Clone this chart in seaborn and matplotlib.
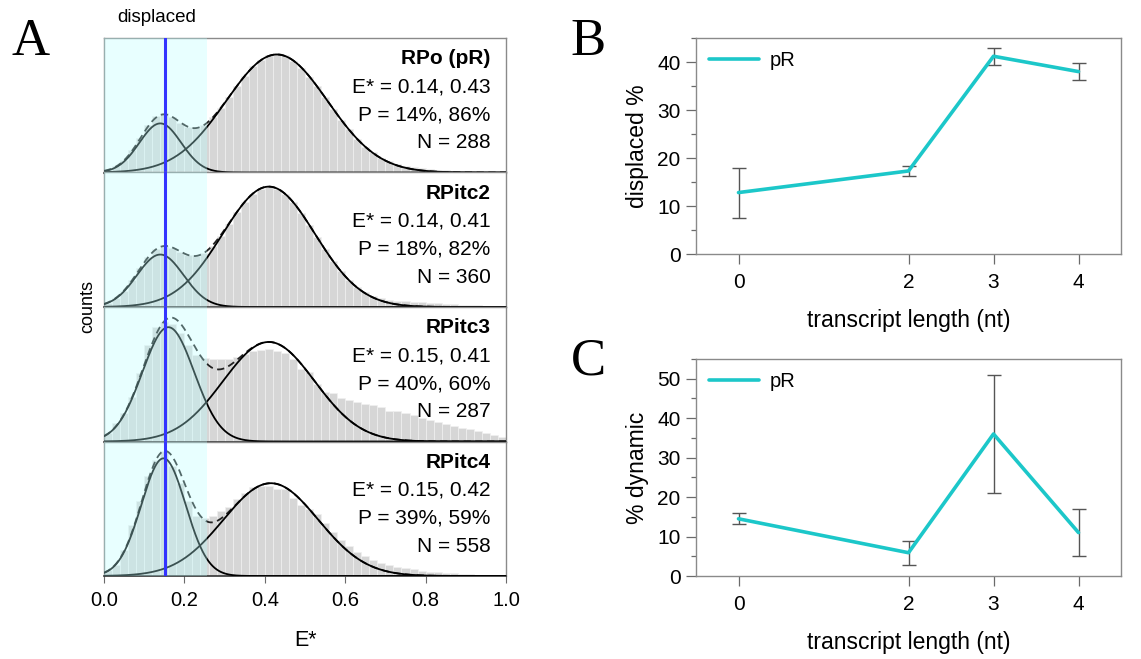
import numpy as np
import pandas as pd
import matplotlib
matplotlib.use("Agg")
import matplotlib.pyplot as plt
from matplotlib.ticker import MultipleLocator
import seaborn as sns

# ---------------- data ----------------
panel_names = ["RPo (pR)", "RPitc2", "RPitc3", "RPitc4"]
estar_text = ["E* = 0.14, 0.43", "E* = 0.14, 0.41", "E* = 0.15, 0.41", "E* = 0.15, 0.42"]
p_text = ["P = 14%, 86%", "P = 18%, 82%", "P = 40%, 60%", "P = 39%, 59%"]
n_text = ["N = 288", "N = 360", "N = 287", "N = 558"]

bin_width = 0.02

hist_rpo = [2, 5, 9, 17, 26, 35, 42, 44, 41, 37, 34, 33, 35, 41, 48, 56, 64, 72, 79, 84,
            87, 89, 87, 83, 78, 71, 64, 56, 47, 39, 32, 25, 19, 15, 11, 8.5, 6.5, 5, 4, 3.2,
            2.6, 2.2, 1.8, 1.4, 1.1, 0.8, 0.6, 0.4, 0.3, 0.2]
hist_itc2 = [3, 7, 12, 20, 29, 37, 43, 45, 44, 41, 39, 38, 40, 45, 53, 62, 71, 78, 84, 88,
             89, 88, 84, 78, 70, 61, 52, 43, 34, 27, 20, 15, 11, 8.5, 6.5, 5.5, 4.8, 4.2, 3.8, 3.4,
             3.0, 2.7, 2.4, 2.1, 1.8, 1.5, 1.2, 0.9, 0.6, 0.4]
hist_itc3 = [6, 14, 21, 33, 51, 72, 85, 89, 87, 81, 72, 64, 62, 61, 61, 61.5, 63, 65, 67, 68,
             69, 67, 66, 61, 54, 52, 43, 37, 36, 32, 31, 29.5, 28, 27, 26, 23, 22.5, 21.5, 19.5, 17.5,
             16, 14.5, 13, 11.5, 10, 9, 7.5, 6, 4.5, 3]
hist_itc4 = [4.5, 8, 19.5, 38, 56, 74.5, 86, 93, 82, 69.5, 56, 44.5, 43, 44.5, 48, 51, 57, 62, 66, 67,
             67, 65, 64.5, 58, 53, 50, 46, 39.5, 33, 27, 22, 18, 14.5, 12, 9.5, 8, 7, 6, 5, 4,
             3.2, 2.8, 2.4, 2, 1.7, 1.4, 1.1, 0.9, 0.6, 0.4]
hists = [hist_rpo, hist_itc2, hist_itc3, hist_itc4]

# two-Gaussian fit parameters (peak height, centre, width)
amp_low = [36.5, 39, 85, 87.5]
mu_low = [0.14, 0.14, 0.16, 0.148]
sd_low = [0.052, 0.058, 0.0645, 0.055]
amp_high = [87.75, 89.5, 74, 69]
mu_high = [0.43, 0.41, 0.41, 0.415]
sd_high = [0.126, 0.115, 0.114, 0.118]

displaced_cut = 0.255
displaced_peak = 0.151

transcript_len = [0, 2, 3, 4]
displaced_pct = [12.8, 17.3, 41.2, 38.0]
displaced_err = [5.2, 1.0, 1.8, 1.7]
dynamic_pct = [14.5, 5.9, 36.0, 11.0]
dynamic_err = [1.4, 3.0, 15.0, 6.0]

# ---------------- style ----------------
sns.set_style("white")
plt.rcParams["font.family"] = ["Liberation Sans", "DejaVu Sans"]
plt.rcParams["text.color"] = "black"
plt.rcParams["axes.labelcolor"] = "black"
plt.rcParams["xtick.labelcolor"] = "black"
plt.rcParams["ytick.labelcolor"] = "black"

W, H = 1141, 659
fig = plt.figure(figsize=(W / 100, H / 100), dpi=100)

def fx(px):
    return px / W

def fy(py):
    return 1 - py / H

spine_gray = "#8a8a8a"
tick_gray = "#6a6a6a"

# ---------------- panel A ----------------
a_left, a_right, a_top, a_bot = 104, 506, 38, 576
ph = (a_bot - a_top) / 4
xs = np.linspace(0, 1, 600)
for i in range(4):
    top = a_top + i * ph
    ax = fig.add_axes([fx(a_left), fy(top + ph), fx(a_right - a_left), ph / H])
    n_bins = len(hists[i])
    df = pd.DataFrame({
        "E": (np.arange(n_bins) + 0.5) * bin_width,
        "count": hists[i],
    })
    sns.histplot(data=df, x="E", weights="count", binwidth=bin_width, binrange=(0, 1.0),
                 ax=ax, color="#d6d6d6", edgecolor="#f0f0f0", linewidth=0.5, alpha=1.0, zorder=1)
    g1 = amp_low[i] * np.exp(-(xs - mu_low[i]) ** 2 / (2 * sd_low[i] ** 2))
    g2 = amp_high[i] * np.exp(-(xs - mu_high[i]) ** 2 / (2 * sd_high[i] ** 2))
    ax.plot(xs, g1 + g2, color="#222222", lw=1.3, linestyle=(0, (4, 2.5)), zorder=3)
    ax.plot(xs, g1, color="black", lw=1.3, zorder=4)
    ax.plot(xs, g2, color="black", lw=1.3, zorder=4)
    ax.axvspan(0, displaced_cut, color="#b8ffff", alpha=0.32, lw=0, zorder=5)
    ax.axvline(displaced_peak, color="#3434ff", lw=2.2, zorder=6)
    ax.set_xlim(0, 1.0)
    ax.set_ylim(0, 100)
    ax.set_yticks([])
    ax.set_ylabel("")
    ax.set_xlabel("")
    for s in ["left", "right", "top"]:
        ax.spines[s].set_color(spine_gray)
        ax.spines[s].set_linewidth(1.0)
    ax.spines["bottom"].set_color("#333333")
    ax.spines["bottom"].set_linewidth(1.2)
    ticks = [0.0, 0.2, 0.4, 0.6, 0.8, 1.0]
    ax.set_xticks(ticks)
    if i < 3:
        ax.tick_params(axis="x", length=0, labelbottom=False)
    else:
        ax.tick_params(axis="x", direction="out", length=5, width=0.8, color=tick_gray,
                       labelsize=14.5, pad=6, bottom=True)
        ax.set_xticklabels([f"{v:.1f}" for v in ticks])
    lines = [panel_names[i], estar_text[i], p_text[i], n_text[i]]
    ys = [0.845, 0.637, 0.429, 0.221]
    for j, (t, yy) in enumerate(zip(lines, ys)):
        ax.text(0.962, yy, t, transform=ax.get_xaxis_transform(), ha="right", va="center",
                fontsize=15, fontweight="bold" if j == 0 else "normal", zorder=7)

fig.text(fx(157), fy(18), "displaced", ha="center", va="center", fontsize=13.5)
fig.text(fx(88), fy(307), "counts", ha="center", va="center", rotation=90, fontsize=13)
fig.text(fx(305), fy(641), "E*", ha="center", va="center", fontsize=15.5)

# ---------------- panels B and C ----------------
def line_panel(rect, yvals, yerr, ylim, ylabel, majors):
    left, top, right, bottom = rect
    ax = fig.add_axes([fx(left), fy(bottom), fx(right - left), (bottom - top) / H])
    ax.errorbar(transcript_len, yvals, yerr=yerr, fmt="none", ecolor="#555555",
                elinewidth=1.0, capsize=5, capthick=1.0, zorder=2)
    sns.lineplot(x=transcript_len, y=yvals, ax=ax, color="#1cc7c9", lw=2.6, label="pR", zorder=3)
    ax.set_xlim(-0.5, 4.5)
    ax.set_ylim(*ylim)
    ax.set_xticks(transcript_len)
    ax.set_yticks(majors)
    ax.yaxis.set_minor_locator(MultipleLocator(5))
    ax.tick_params(axis="both", which="major", direction="out", length=7, width=0.9,
                   color=tick_gray, labelsize=15, pad=4, bottom=True, left=True)
    ax.tick_params(axis="x", which="major", pad=7)
    ax.tick_params(axis="y", which="minor", direction="out", length=3.6, width=0.9,
                   color=tick_gray, left=True)
    for s in ax.spines.values():
        s.set_color(spine_gray)
        s.set_linewidth(1.0)
    ax.set_xlabel("transcript length (nt)", fontsize=16.5, labelpad=12)
    ax.set_ylabel(ylabel, fontsize=16.5, labelpad=6)
    ax.legend(loc="upper left", frameon=False, fontsize=14.5, handlelength=2.5,
              borderaxespad=0.25, handletextpad=0.5)
    return ax

line_panel((696, 38, 1121, 254), displaced_pct, displaced_err, (0, 45), "displaced %",
           [0, 10, 20, 30, 40])
line_panel((696, 359, 1121, 576), dynamic_pct, dynamic_err, (0, 55), "% dynamic",
           [0, 10, 20, 30, 40, 50])

# panel letters
for letter, (px, py) in zip(["A", "B", "C"], [(31, 42), (588, 42), (588, 362)]):
    fig.text(fx(px), fy(py), letter, ha="center", va="center", fontsize=38,
             family=["Liberation Serif", "DejaVu Serif"])

fig.savefig("out.png", dpi=100)
